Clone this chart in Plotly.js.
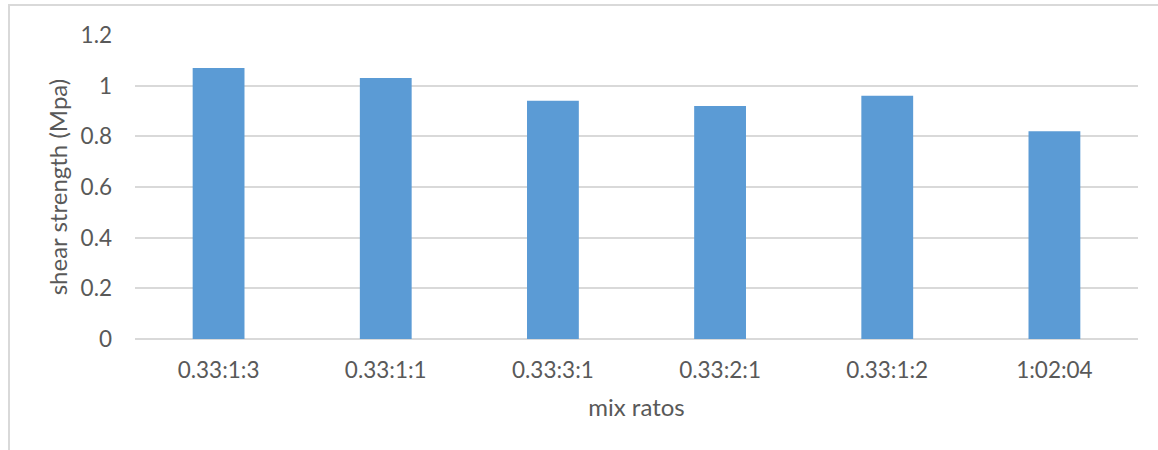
<!DOCTYPE html>
<html>
<head>
<meta charset="utf-8">
<script src="https://cdn.plot.ly/plotly-3.0.1.min.js"></script>
<style>
  html, body { margin: 0; padding: 0; background: #fff; }
  #wrap { position: relative; width: 1158px; height: 450px; overflow: hidden; }
  #chart { position: absolute; left: 0; top: 0; width: 1158px; height: 450px; }
  #frame { position: absolute; left: 8px; top: 4px; width: 1170px; height: 470px;
           border: 2px solid #D9D9D9; box-sizing: border-box; pointer-events: none; }
</style>
</head>
<body>
<div id="wrap">
  <div id="chart"></div>
  <div id="frame"></div>
</div>
<script>
const categories = ["0.33:1:3", "0.33:1:1", "0.33:3:1", "0.33:2:1", "0.33:1:2", "1:02:04"];
const shearStrength = [1.07, 1.03, 0.94, 0.92, 0.96, 0.82];
const yTickValues = [0, 0.2, 0.4, 0.6, 0.8, 1, 1.2];
const yTickLabels = ["0", "0.2", "0.4", "0.6", "0.8", "1", "1.2"];
const xTitle = "mix ratos";
const yTitle = "shear strength (Mpa)";

const textColor = "#595959";
const fontFamily = "Lato, 'Open Sans', sans-serif";
const tickSize = 22.5;
const titleSize = 24;

const trace = {
  type: "bar",
  x: categories,
  y: shearStrength,
  marker: { color: "#5B9BD5", line: { width: 0 } },
  hoverinfo: "x+y"
};

const layout = {
  width: 1158,
  height: 450,
  margin: { l: 135, r: 20, t: 35, b: 111, pad: 0 },
  paper_bgcolor: "rgba(0,0,0,0)",
  plot_bgcolor: "rgba(0,0,0,0)",
  bargap: 0.69,
  showlegend: false,
  font: { family: fontFamily, color: textColor, size: tickSize },
  xaxis: {
    type: "category",
    showgrid: false,
    showline: false,
    zeroline: false,
    ticks: "",
    ticklabelstandoff: 15,
    tickfont: { family: fontFamily, size: tickSize, color: textColor },
    title: { text: xTitle, standoff: 17, font: { family: fontFamily, size: titleSize, color: textColor } },
    automargin: false
  },
  yaxis: {
    range: [0, 1.2],
    tickmode: "array",
    tickvals: yTickValues,
    ticktext: yTickLabels,
    showgrid: true,
    gridcolor: "#D9D9D9",
    gridwidth: 2,
    zeroline: true,
    zerolinecolor: "#D9D9D9",
    zerolinewidth: 2,
    showline: false,
    ticks: "",
    ticklabelstandoff: 22,
    tickfont: { family: fontFamily, size: tickSize, color: textColor },
    title: { text: yTitle, standoff: 6, font: { family: fontFamily, size: titleSize, color: textColor } },
    automargin: false
  }
};

Plotly.newPlot("chart", [trace], layout, { displayModeBar: false, staticPlot: false });
</script>
</body>
</html>
